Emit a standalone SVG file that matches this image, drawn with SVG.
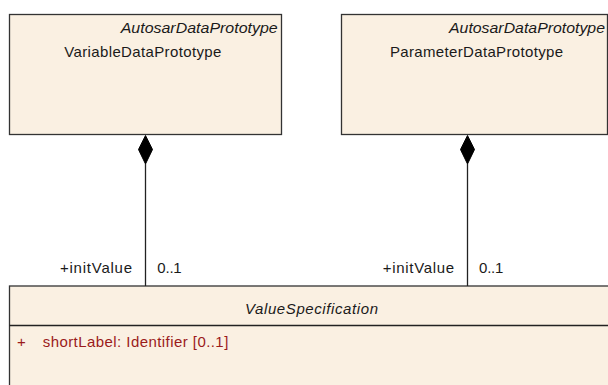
<svg xmlns="http://www.w3.org/2000/svg" width="608" height="385" viewBox="0 0 608 385">
<style>
.box{fill:#FAF0E2;stroke:#333;stroke-width:1.3}
.t{font-family:"Liberation Sans",Arial,sans-serif;font-size:15px;fill:#1a1a1a}
.i{font-style:italic}
.attr{fill:#9b1b1b}
.ln{stroke:#222;stroke-width:1.3;fill:none}
.dia{fill:#000;stroke:#000;stroke-width:1}
</style>
<rect width="608" height="385" fill="#fff"/>
<g id="VariableDataPrototype">
<rect class="box" x="9.5" y="14.5" width="272" height="120"/>
<text class="t i" x="120.7" y="32.5" textLength="157" lengthAdjust="spacingAndGlyphs">AutosarDataPrototype</text>
<text class="t" x="64.3" y="56.5" textLength="157" lengthAdjust="spacing">VariableDataPrototype</text>
</g>
<g id="ParameterDataPrototype">
<rect class="box" x="341.5" y="14.5" width="266" height="120"/>
<text class="t i" x="449" y="32.5" textLength="156" lengthAdjust="spacingAndGlyphs">AutosarDataPrototype</text>
<text class="t" x="390" y="56.5" textLength="173" lengthAdjust="spacing">ParameterDataPrototype</text>
</g>
<g id="ValueSpecification">
<rect class="box" x="9.5" y="286" width="620" height="120"/>
<line class="ln" x1="9.5" y1="325.5" x2="608" y2="325.5"/>
<text class="t i" x="245" y="314" textLength="133" lengthAdjust="spacing">ValueSpecification</text>
<text class="t attr" x="17" y="346.5">+</text>
<text class="t attr" x="42.7" y="346.5" textLength="185.6" lengthAdjust="spacing">shortLabel: Identifier [0..1]</text>
</g>
<g id="connectors">
<line class="ln" x1="145.5" y1="164" x2="145.5" y2="286"/>
<polygon class="dia" points="145.5,135.5 152.5,149.5 145.5,164 138.5,149.5"/>
<text class="t" x="60" y="272.5" textLength="72" lengthAdjust="spacing">+initValue</text>
<text class="t" x="157.3" y="272.5" textLength="24.4" lengthAdjust="spacing">0..1</text>
<line class="ln" x1="467.5" y1="164" x2="467.5" y2="286"/>
<polygon class="dia" points="467.5,135.5 474.5,149.5 467.5,164 460.5,149.5"/>
<text class="t" x="382.7" y="272.5" textLength="71.5" lengthAdjust="spacing">+initValue</text>
<text class="t" x="479" y="272.5" textLength="24.4" lengthAdjust="spacing">0..1</text>
</g>
</svg>
